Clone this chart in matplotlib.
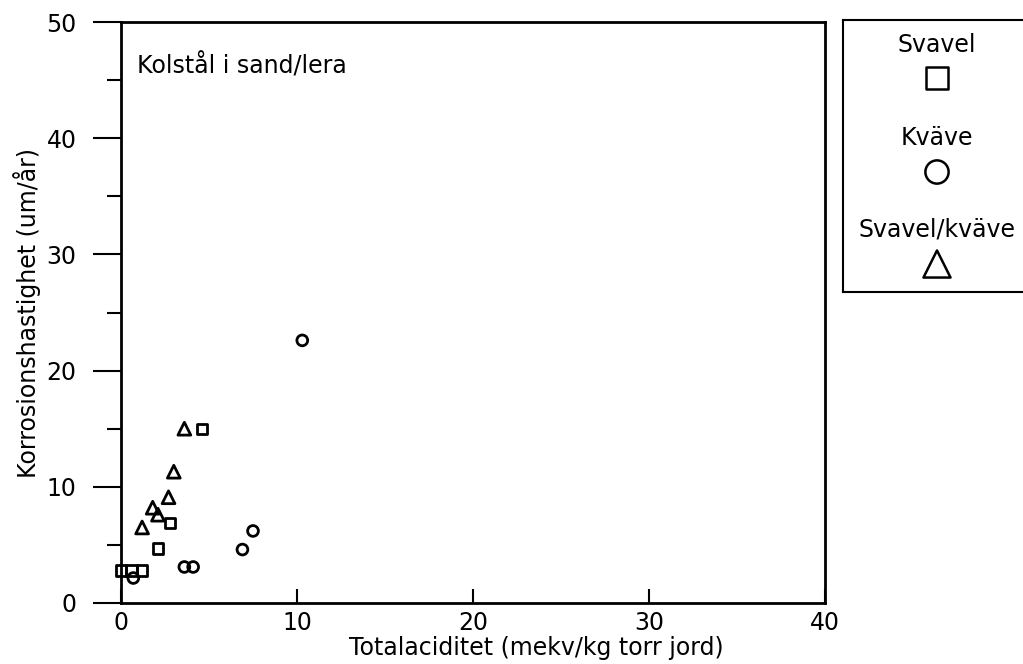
import matplotlib.pyplot as plt
from matplotlib.ticker import MultipleLocator

plt.rcParams['font.family'] = ['DejaVu Sans']

# Svavel (squares)
svavel_x = [4.6, 2.8, 2.1, 0.0, 0.6, 1.2]
svavel_y = [15.0, 6.9, 4.7, 2.8, 2.8, 2.8]

# Kväve (circles)
kvave_x = [0.7, 3.6, 4.1, 6.9, 7.5, 10.3]
kvave_y = [2.15, 3.1, 3.1, 4.6, 6.2, 22.6]

# Svavel/kväve (triangles)
sk_x = [3.6, 3.0, 2.7, 1.8, 2.1, 1.2]
sk_y = [15.0, 11.3, 9.1, 8.2, 7.6, 6.5]

legend_labels = ['Svavel', 'Kväve', 'Svavel/kväve']

fs = 17

fig = plt.figure(figsize=(10.23, 6.64), dpi=100)
ax = fig.add_axes([121/1023, 1 - 603/664, (825-121)/1023, (603-22)/664])

mk = dict(facecolor='none', edgecolor='black', linewidths=2, clip_on=False)
ax.scatter(svavel_x, svavel_y, marker='s', s=55, **mk)
ax.scatter(kvave_x, kvave_y, marker='o', s=60, **mk)
ax.scatter(sk_x, sk_y, marker='^', s=85, **mk)

ax.set_xlim(0, 40)
ax.set_ylim(0, 50)
ax.xaxis.set_major_locator(MultipleLocator(10))
ax.yaxis.set_major_locator(MultipleLocator(10))
ax.yaxis.set_minor_locator(MultipleLocator(5))
ax.tick_params(axis='x', direction='in', length=10, width=1.5, pad=6, labelsize=fs)
ax.tick_params(axis='y', which='major', direction='out', length=20, width=1.5, pad=12, labelsize=fs)
ax.tick_params(axis='y', which='minor', direction='out', length=10, width=1.5)
for s in ax.spines.values():
    s.set_linewidth(2)

ax.set_xlabel('Totalaciditet (mekv/kg torr jord)', fontsize=fs, va='top')
ax.xaxis.set_label_coords(0.59, -0.056)
ax.set_ylabel('Korrosionshastighet (um/år)', fontsize=fs, va='center')
ax.yaxis.set_label_coords(-0.133, 0.5)
ax.text(0.023, 0.925, 'Kolstål i sand/lera', transform=ax.transAxes, fontsize=fs, va='center')

# legend box
lg = fig.add_axes([843/1023, 1 - 292/664, 210/1023, (292-20)/664])
lg.set_xlim(843, 1053)
lg.set_ylim(292, 20)
lg.set_xticks([])
lg.set_yticks([])
for s in lg.spines.values():
    s.set_linewidth(1.5)
lg.text(937, 45, legend_labels[0], ha='center', va='center', fontsize=fs)
lg.scatter([937], [78], marker='s', s=250, facecolor='none', edgecolor='black', linewidths=1.8)
lg.text(937, 138, legend_labels[1], ha='center', va='center', fontsize=fs)
lg.scatter([937], [172], marker='o', s=280, facecolor='none', edgecolor='black', linewidths=1.8)
lg.text(937, 230, legend_labels[2], ha='center', va='center', fontsize=fs)
lg.scatter([937], [264], marker='^', s=380, facecolor='none', edgecolor='black', linewidths=1.8)

fig.savefig('out.png', dpi=100)
